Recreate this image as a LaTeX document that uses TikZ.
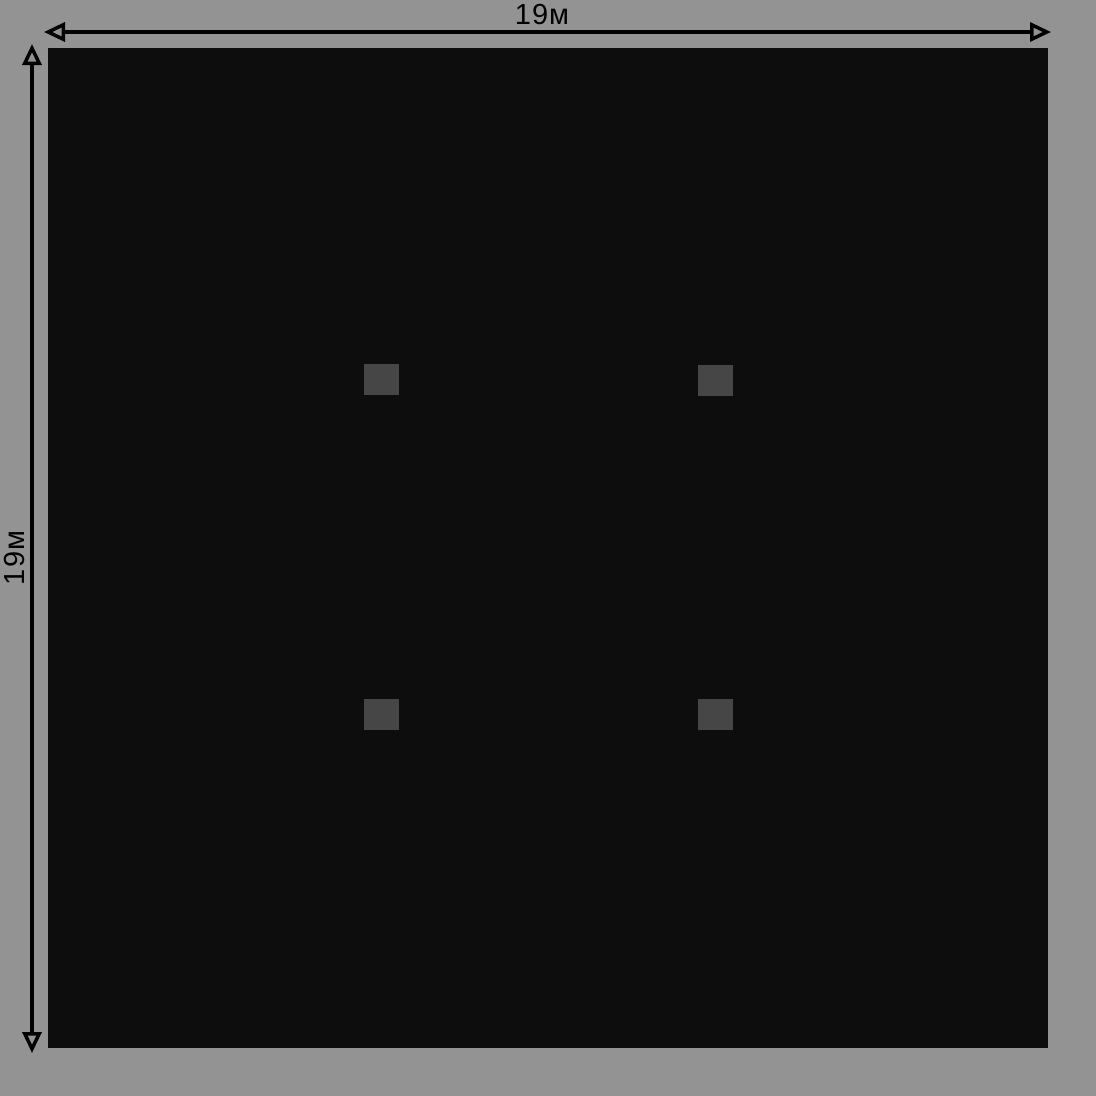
\documentclass[tikz,border=0pt]{standalone}
\usepackage{fontspec}
\setmainfont{Liberation Sans}
\usetikzlibrary{arrows.meta}
\definecolor{bg}{HTML}{939393}
\definecolor{plot}{HTML}{0D0D0D}
\definecolor{post}{HTML}{464646}
\begin{document}
\begin{tikzpicture}[x=1pt,y=-1pt,
  tip/.style={Triangle[open,length=21pt,width=19pt,line width=3.5pt,fill=bg]},
  dim/.style={line width=3.6pt,{Triangle[open,length=21pt,width=19pt,line width=3.5pt,fill=bg]}-{Triangle[open,length=21pt,width=19pt,line width=3.5pt,fill=bg]}},
  postbox/.style={fill=post,draw=none,minimum width=35pt,minimum height=31pt,inner sep=0pt,anchor=north west},
  lbl/.style={font=\fontsize{29}{32}\selectfont,text=black,inner sep=0pt}]
\fill[bg] (0,0) rectangle (1096,1096);
\useasboundingbox (0,0) rectangle (1096,1096);
\fill[plot] (48,48) rectangle (1048,1048);
\node[postbox] (p1) at (364,364) {};
\node[postbox] (p2) at (698,365) {};
\node[postbox] (p3) at (364,699) {};
\node[postbox] (p4) at (698,699) {};
\coordinate (hl) at (44,32);
\coordinate (hr) at (1051,32);
\coordinate (vt) at (32,44);
\coordinate (vb) at (32,1053);
\draw[dim] (hl) -- (hr);
\draw[dim] (vt) -- (vb);
\node[lbl] (wl) at (542,15) {1\kern1pt 9\kern1pt м};
\node[lbl,rotate=90] (hlb) at (15,558) {1\kern1pt 9\kern1pt м};
\end{tikzpicture}
\end{document}
